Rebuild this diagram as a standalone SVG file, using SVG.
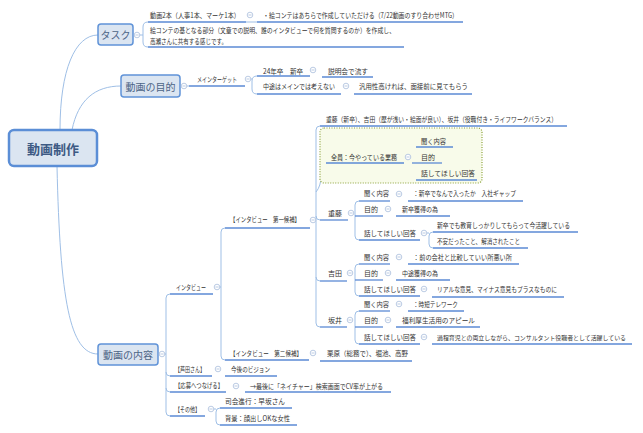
<svg xmlns="http://www.w3.org/2000/svg" xmlns:xlink="http://www.w3.org/1999/xlink" width="643" height="433" viewBox="0 0 643 433">
<style>
.t{font-family:"Noto Sans CJK JP","Noto Sans",sans-serif;font-size:7px;fill:#333;dominant-baseline:central}
.u{stroke:#5b8ad4;stroke-width:1.3;fill:none}
.c{stroke:#9fbfe6;stroke-width:1;fill:none}
.mb{fill:#dbe5f1;stroke:#6093d8;stroke-width:1.5}
.mt{font-family:"Noto Sans CJK JP","Noto Sans",sans-serif;font-size:10px;fill:#4c6486;text-anchor:middle;dominant-baseline:central}
</style>
<defs>
<g id="m"><circle r="2.8" fill="#fff" stroke="#a9bedc" stroke-width="0.8"/><line x1="-1.6" x2="1.6" y1="0" y2="0" stroke="#a9bedc" stroke-width="0.8"/></g>
</defs>
<rect width="643" height="433" fill="#fff"/>
<g id="connectors">
<path class="c" d="M60 130 C60 70 75 35 98 35"/>
<path class="c" d="M72 130 C78 100 95 86 121 86"/>
<path class="c" d="M57 166 C60 300 70 354 98 354"/>
<path class="c" d="M140 35 H143 M148 22 Q143 22 143 27 V42 Q143 47 148 47"/>
<path class="c" d="M246 22 H257"/>
<path class="c" d="M187 86 H189"/>
<path class="c" d="M251 79 H252 M257 76 Q252 76 252 81 V89 Q252 94 257 94"/>
<path class="c" d="M165 354 H166 M170 294 Q166 294 166 298 V412 Q166 416 170 416 M166 372 Q166 376 170 376 M166 388 Q166 392 170 392"/>
<path class="c" d="M220 287 H221 M225 228 Q221 228 221 232 V356 Q221 360 225 360"/>
<path class="c" d="M320 126 Q316 126 316 130 V323 Q316 327 320 327 M316 216 Q316 220 320 220 M316 277 Q316 281 320 281 M316 192 Q321 186 321 176 V168 Q321 163 326 163"/>
<path class="c" d="M411 157 H412 M416 147 Q412 147 412 151 V176 Q412 180 416 180"/>
<path class="c" d="M359 201 Q355 201 355 205 V236 Q355 240 359 240"/>
<path class="c" d="M433 232 Q429 232 429 236 V244 Q429 248 433 248 M427 233 H429"/>
<path class="c" d="M359 264 Q355 264 355 268 V292 Q355 296 359 296"/>
<path class="c" d="M359 311 Q355 311 355 315 V340 Q355 344 359 344"/>
<path class="c" d="M214 409 H216 M220 408 Q216 408 216 412 V421 Q216 425 220 425"/>
</g>
<g id="root"><rect x="9" y="130" width="88" height="36" rx="5" fill="#dbe5f1" stroke="#5b8ed6" stroke-width="2.5"/><text x="53" y="148" class="mt" style="font-size:13px;font-weight:bold;fill:#3d5a84">動画制作</text></g>
<g id="task"><rect class="mb" x="98" y="24" width="35" height="21" rx="3"/><text class="mt" x="115.5" y="34.5">タスク</text><use xlink:href="#m" x="137" y="35"/></g>
<g id="purpose"><rect class="mb" x="121" y="75" width="59" height="22" rx="3"/><text class="mt" x="150.5" y="86">動画の目的</text><use xlink:href="#m" x="184" y="86"/></g>
<g id="content"><rect class="mb" x="98" y="344" width="60" height="21" rx="3"/><text class="mt" x="128" y="354.5">動画の内容</text><use xlink:href="#m" x="162" y="354"/></g>

<g id="t1"><text class="t" x="150" y="15" textLength="90" lengthAdjust="spacingAndGlyphs">動画2本（人事1本、マーケ1本）</text><path class="u" d="M148 22 H246"/><use xlink:href="#m" x="250" y="15"/></g>
<g id="t1a"><text class="t" x="263" y="15" textLength="195" lengthAdjust="spacingAndGlyphs">・絵コンテはあちらで作成していただける（7/22動画のすり合わせMTG）</text><path class="u" d="M257 22 H463"/></g>
<g id="t2"><text class="t" x="150" y="30" textLength="245" lengthAdjust="spacingAndGlyphs">絵コンテの基となる部分（文章での説明、誰のインタビューで何を質問するのか）を作成し、</text><text class="t" x="150" y="41" textLength="77" lengthAdjust="spacingAndGlyphs">高瀬さんに共有する感じです。</text><path class="u" d="M148 47 H404"/></g>

<g id="p1"><text class="t" x="197" y="79" textLength="40" lengthAdjust="spacingAndGlyphs">メインターゲット</text><path class="u" d="M189 86 H245"/><use xlink:href="#m" x="248" y="79"/></g>
<g id="p1a"><text class="t" x="263" y="71" textLength="40" lengthAdjust="spacingAndGlyphs">24年卒　新卒</text><path class="u" d="M257 76 H310"/><use xlink:href="#m" x="313" y="70"/></g>
<g id="p1a1"><text class="t" x="328" y="71" textLength="40" lengthAdjust="spacingAndGlyphs">説明会で流す</text><path class="u" d="M322 77 H373"/></g>
<g id="p1b"><text class="t" x="263" y="86" textLength="72" lengthAdjust="spacingAndGlyphs">中途はメインでは考えない</text><path class="u" d="M257 94 H341"/><use xlink:href="#m" x="346" y="86"/></g>
<g id="p1b1"><text class="t" x="359" y="86" textLength="109" lengthAdjust="spacingAndGlyphs">汎用性高ければ、面接前に見てもらう</text><path class="u" d="M354 94 H472"/></g>

<g id="c1"><text class="t" x="176" y="287" textLength="30" lengthAdjust="spacingAndGlyphs">インタビュー</text><path class="u" d="M170 294 H213"/><use xlink:href="#m" x="217" y="287"/></g>
<g id="i1"><text class="t" x="230" y="219" textLength="70" lengthAdjust="spacingAndGlyphs">【インタビュー　第一候補】</text><path class="u" d="M225 228 H310"/><use xlink:href="#m" x="313" y="220"/></g>
<g id="i1a"><text class="t" x="326" y="119" textLength="231" lengthAdjust="spacingAndGlyphs">重藤（新卒）、吉田（歴が浅い・絵面が良い）、坂井（役職付き・ライフワークバランス）</text><path class="u" d="M320 126 H567"/></g>
<g id="all"><rect x="320" y="128" width="162" height="55" rx="4" fill="#f8fbea" stroke="#8ba13a" stroke-width="1.2" stroke-dasharray="1 1.5"/><text class="t" x="331" y="157" textLength="66" lengthAdjust="spacingAndGlyphs">全員：今やっている業務</text><path class="u" d="M326 163 H404"/><use xlink:href="#m" x="408" y="157"/></g>
<g id="all1"><text class="t" x="421" y="141" textLength="25" lengthAdjust="spacingAndGlyphs">聞く内容</text><path class="u" d="M416 147 H453"/></g>
<g id="all2"><text class="t" x="421" y="157" textLength="14" lengthAdjust="spacingAndGlyphs">目的</text><path class="u" d="M412 163 H442"/></g>
<g id="all3"><text class="t" x="421" y="173" textLength="54" lengthAdjust="spacingAndGlyphs">話してほしい回答</text><path class="u" d="M416 180 H477"/></g>

<g id="sh"><text class="t" x="328" y="213" textLength="14" lengthAdjust="spacingAndGlyphs">重藤</text><path class="u" d="M320 220 H348"/><use xlink:href="#m" x="351" y="213"/></g>
<g id="sh1"><text class="t" x="364" y="193" textLength="25" lengthAdjust="spacingAndGlyphs">聞く内容</text><path class="u" d="M359 201 H390"/><use xlink:href="#m" x="399" y="194"/></g>
<g id="sh1a"><text class="t" x="413" y="193" textLength="103" lengthAdjust="spacingAndGlyphs">：新卒でなんで入ったか　入社ギャップ</text><path class="u" d="M408 201 H523"/></g>
<g id="sh2"><text class="t" x="364" y="209" textLength="14" lengthAdjust="spacingAndGlyphs">目的</text><path class="u" d="M355 216 H383"/><use xlink:href="#m" x="388" y="209"/></g>
<g id="sh2a"><text class="t" x="402" y="209" textLength="36" lengthAdjust="spacingAndGlyphs">新卒獲得の為</text><path class="u" d="M396 216 H450"/></g>
<g id="sh3"><text class="t" x="364" y="233" textLength="52" lengthAdjust="spacingAndGlyphs">話してほしい回答</text><path class="u" d="M359 240 H420"/><use xlink:href="#m" x="424" y="233"/></g>
<g id="sh3a"><text class="t" x="437" y="225" textLength="133" lengthAdjust="spacingAndGlyphs">新卒でも教育しっかりしてもらって今活躍している</text><path class="u" d="M433 232 H578"/></g>
<g id="sh3b"><text class="t" x="437" y="241" textLength="83" lengthAdjust="spacingAndGlyphs">不安だったこと、解消されたこと</text><path class="u" d="M433 248 H528"/></g>

<g id="yo"><text class="t" x="328" y="273" textLength="14" lengthAdjust="spacingAndGlyphs">吉田</text><path class="u" d="M320 281 H347"/><use xlink:href="#m" x="350" y="273"/></g>
<g id="yo1"><text class="t" x="364" y="257" textLength="25" lengthAdjust="spacingAndGlyphs">聞く内容</text><path class="u" d="M359 264 H390"/><use xlink:href="#m" x="399" y="257"/></g>
<g id="yo1a"><text class="t" x="413" y="257" textLength="99" lengthAdjust="spacingAndGlyphs">：前の会社と比較していい所悪い所</text><path class="u" d="M408 264 H519"/></g>
<g id="yo2"><text class="t" x="364" y="273" textLength="14" lengthAdjust="spacingAndGlyphs">目的</text><path class="u" d="M355 280 H383"/><use xlink:href="#m" x="388" y="273"/></g>
<g id="yo2a"><text class="t" x="402" y="273" textLength="36" lengthAdjust="spacingAndGlyphs">中途獲得の為</text><path class="u" d="M396 280 H450"/></g>
<g id="yo3"><text class="t" x="364" y="289" textLength="52" lengthAdjust="spacingAndGlyphs">話してほしい回答</text><path class="u" d="M359 296 H420"/><use xlink:href="#m" x="424" y="289"/></g>
<g id="yo3a"><text class="t" x="437" y="289" textLength="120" lengthAdjust="spacingAndGlyphs">リアルな意見、マイナス意見もプラスなものに</text><path class="u" d="M432 297 H564"/></g>

<g id="sa"><text class="t" x="328" y="320" textLength="14" lengthAdjust="spacingAndGlyphs">坂井</text><path class="u" d="M320 327 H347"/><use xlink:href="#m" x="350" y="320"/></g>
<g id="sa1"><text class="t" x="364" y="304" textLength="25" lengthAdjust="spacingAndGlyphs">聞く内容</text><path class="u" d="M359 311 H390"/><use xlink:href="#m" x="399" y="304"/></g>
<g id="sa1a"><text class="t" x="413" y="304" textLength="45" lengthAdjust="spacingAndGlyphs">：時短テレワーク</text><path class="u" d="M408 311 H464"/></g>
<g id="sa2"><text class="t" x="364" y="320" textLength="14" lengthAdjust="spacingAndGlyphs">目的</text><path class="u" d="M355 327 H383"/><use xlink:href="#m" x="388" y="320"/></g>
<g id="sa2a"><text class="t" x="402" y="320" textLength="73" lengthAdjust="spacingAndGlyphs">福利厚生活用のアピール</text><path class="u" d="M396 327 H480"/></g>
<g id="sa3"><text class="t" x="364" y="337" textLength="52" lengthAdjust="spacingAndGlyphs">話してほしい回答</text><path class="u" d="M359 344 H420"/><use xlink:href="#m" x="424" y="337"/></g>
<g id="sa3a"><text class="t" x="437" y="337" style="font-size:6.2px" textLength="189" lengthAdjust="spacingAndGlyphs">過程育児との両立しながら、コンサルタント役職者として活躍している</text><path class="u" d="M432 344 H632"/></g>

<g id="i2"><text class="t" x="230" y="353" textLength="72" lengthAdjust="spacingAndGlyphs">【インタビュー　第二候補】</text><path class="u" d="M225 360 H309"/><use xlink:href="#m" x="313" y="353"/></g>
<g id="i2a"><text class="t" x="327" y="353" textLength="81" lengthAdjust="spacingAndGlyphs">栗原（総務で）、堀池、高野</text><path class="u" d="M320 361 H412"/></g>

<g id="c2"><text class="t" x="175" y="369" textLength="30" lengthAdjust="spacingAndGlyphs">【芦田さん】</text><path class="u" d="M170 376 H212"/><use xlink:href="#m" x="218" y="369"/></g>
<g id="c2a"><text class="t" x="231" y="369" textLength="39" lengthAdjust="spacingAndGlyphs">今後のビジョン</text><path class="u" d="M225 376 H277"/></g>
<g id="c3"><text class="t" x="175" y="385" textLength="48" lengthAdjust="spacingAndGlyphs">【応募へつなげる】</text><path class="u" d="M170 392 H226"/><use xlink:href="#m" x="236" y="386"/></g>
<g id="c3a"><text class="t" x="250" y="386" textLength="133" lengthAdjust="spacingAndGlyphs">→最後に「ネイチャー」検索画面でCV率が上がる</text><path class="u" d="M245 392 H391"/></g>
<g id="c4"><text class="t" x="175" y="409" textLength="25" lengthAdjust="spacingAndGlyphs">【その他】</text><path class="u" d="M170 416 H205"/><use xlink:href="#m" x="211" y="409"/></g>
<g id="c4a"><text class="t" x="225" y="401" textLength="60" lengthAdjust="spacingAndGlyphs">司会進行：早坂さん</text><path class="u" d="M220 408 H292"/></g>
<g id="c4b"><text class="t" x="225" y="418" textLength="65" lengthAdjust="spacingAndGlyphs">背景：顔出しOKな女性</text><path class="u" d="M220 425 H297"/></g>
</svg>
